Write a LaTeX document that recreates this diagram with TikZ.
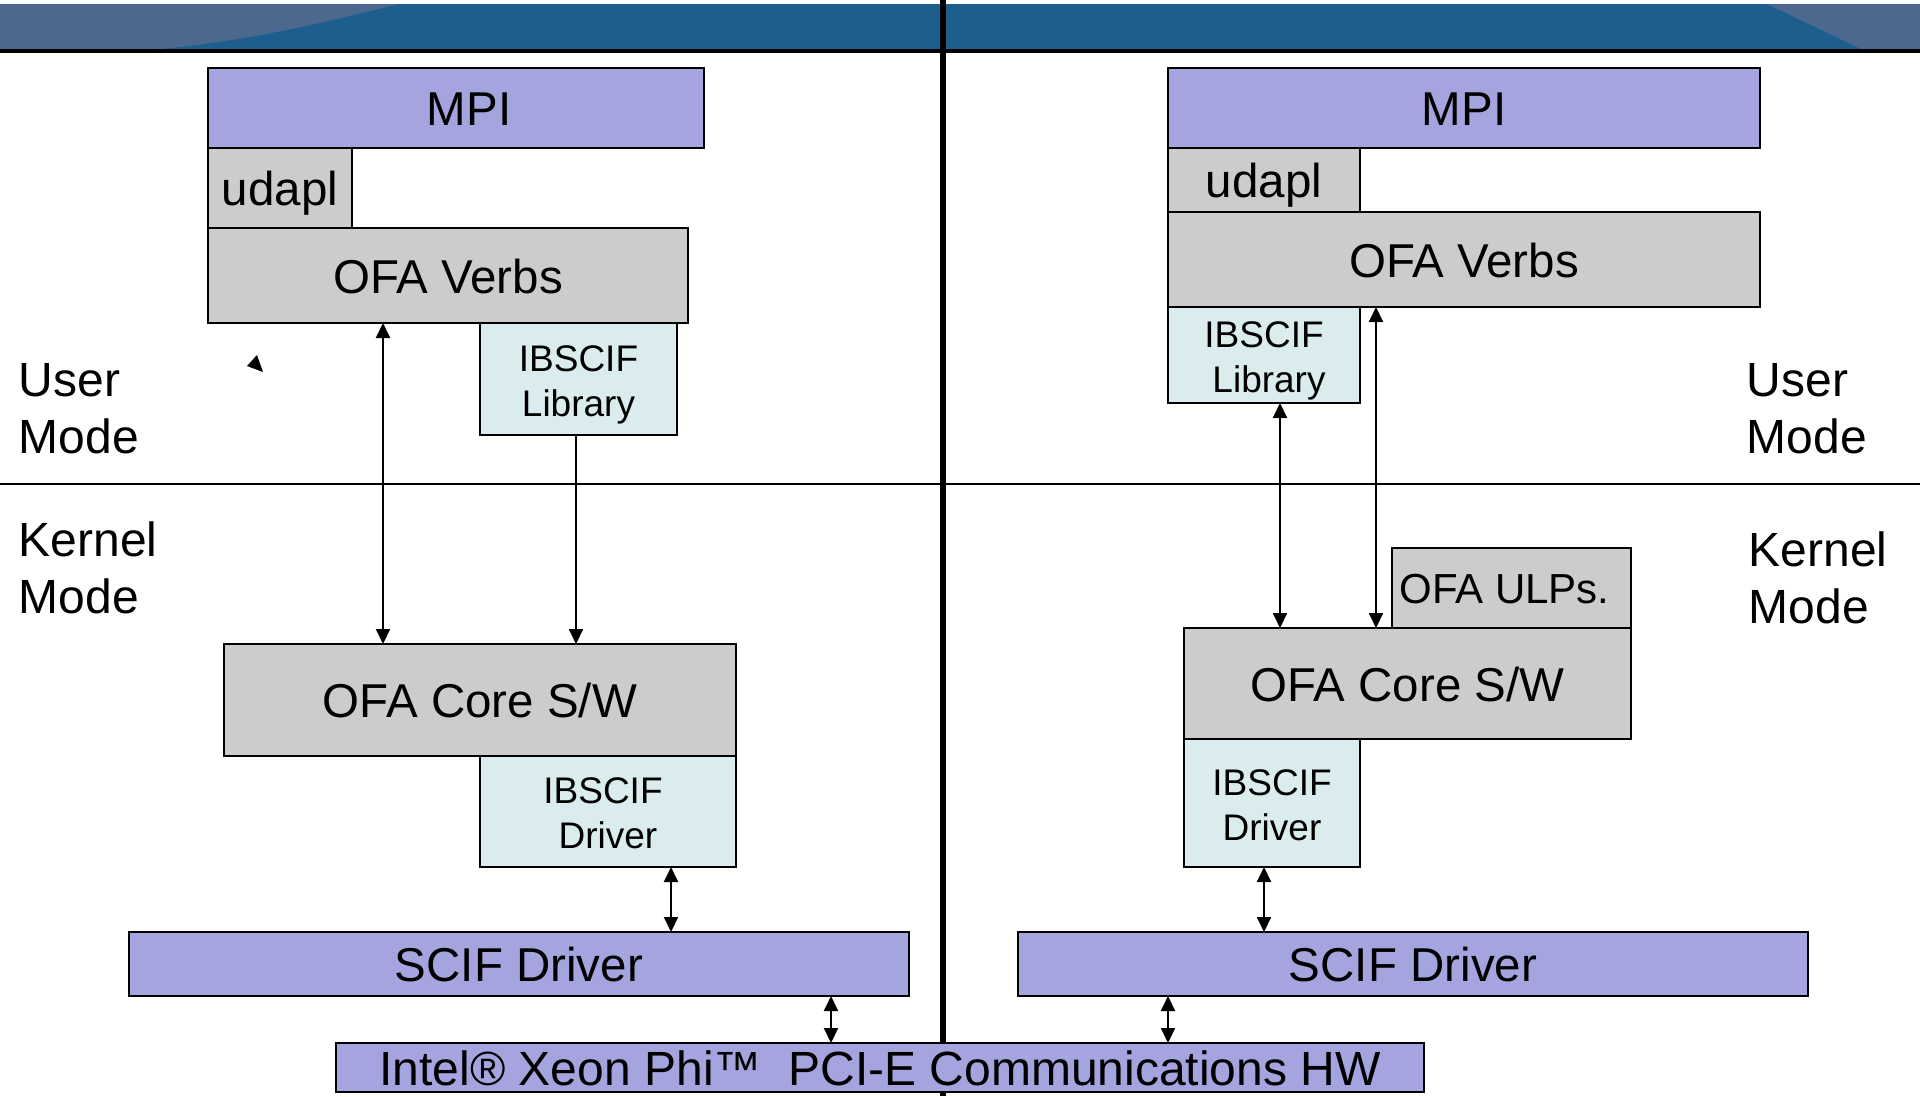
\documentclass[tikz,border=0pt]{standalone}
\usepackage{fontspec}
\setmainfont{Liberation Sans}
\usetikzlibrary{arrows.meta}
\definecolor{purp}{HTML}{A4A4DF}
\definecolor{greyb}{HTML}{CCCCCC}
\definecolor{cyanb}{HTML}{DAECEE}
\definecolor{banner}{HTML}{1C5F8F}
\definecolor{bannerlt}{HTML}{4C688E}
\tikzset{
  box/.style={draw=black, line width=2.5pt, inner sep=0pt, outer sep=0pt, anchor=north west, text=black},
  bigf/.style={font=\fontsize{47.5}{57}\selectfont, text height=35.6pt, text depth=0pt},
  midf/.style={font=\fontsize{37}{45}\selectfont, align=center, text height=74pt, text depth=0pt},
  lbl/.style={font=\fontsize{48}{57}\selectfont, align=left, anchor=west, inner sep=0pt},
  dbl/.style={line width=2pt, {Triangle[width=14pt,length=15pt]}-{Triangle[width=14pt,length=15pt]}},
  sgl/.style={line width=2pt, -{Triangle[width=14pt,length=15pt]}}
}
\begin{document}
\begin{tikzpicture}[x=1pt,y=-1pt]
\useasboundingbox (0,0) rectangle (1920,1096);
\fill[white] (0,0) rectangle (1920,1096);
% banner
\fill[banner] (0,4) rectangle (1920,49);
\fill[bannerlt] (0,4) -- (398,4) .. controls (320,24) and (240,42) .. (159,49) -- (0,49) -- cycle;
\fill[bannerlt] (1767,4) -- (1920,4) -- (1920,49) -- (1861,49) -- cycle;
\draw[line width=4.5pt] (0,51) -- (1920,51);
% mode separator
\draw[line width=2.5pt] (0,484) -- (1920,484);
% divider
\draw[line width=6pt] (943,0) -- (943,1096);

% mode labels
\node[lbl] (userL) at (18.5,409) {User\\Mode};
\node[lbl] (kernL) at (18.5,568) {Kernel\\Mode};
\node[lbl] (userR) at (1746.5,409) {User\\Mode};
\node[lbl] (kernR) at (1748.5,578) {Kernel\\Mode};

% left stack
\node[box, bigf, fill=purp, minimum width=496pt, minimum height=80pt] (mpiL) at (208,68) {\hspace*{26pt}MPI};
\node[box, bigf, fill=greyb, minimum width=144pt, minimum height=80pt] (udaplL) at (208,148) {udapl};
\node[box, bigf, fill=greyb, minimum width=480pt, minimum height=95pt] (verbsL) at (208,228) {OFA Verbs};
\node[box, midf, fill=cyanb, minimum width=197pt, minimum height=112pt] (libL) at (480,323) {IBSCIF\\Library};
\node[box, bigf, fill=greyb, minimum width=512pt, minimum height=112pt] (coreL) at (224,644) {OFA Core S/W};
\node[box, midf, fill=cyanb, minimum width=256pt, minimum height=111pt] (drvL) at (480,756) {\hspace*{-10pt}IBSCIF\\Driver};
\node[box, bigf, fill=purp, minimum width=780pt, minimum height=64pt] (scifL) at (129,932) {SCIF Driver};

% right stack
\node[box, bigf, fill=purp, minimum width=592pt, minimum height=80pt] (mpiR) at (1168,68) {MPI};
\node[box, bigf, fill=greyb, minimum width=192pt, minimum height=64pt] (udaplR) at (1168,148) {udapl};
\node[box, bigf, fill=greyb, minimum width=592pt, minimum height=95pt] (verbsR) at (1168,212) {OFA Verbs};
\node[box, midf, fill=cyanb, minimum width=192pt, minimum height=96pt] (libR) at (1168,307) {IBSCIF\\\hspace*{10pt}Library};
\node[box, font=\fontsize{42}{50}\selectfont, text height=31.5pt, text depth=0pt, fill=greyb, minimum width=239pt, minimum height=80pt] (ulpR) at (1392,548) {\hspace*{-14pt}OFA ULPs.};
\node[box, bigf, fill=greyb, minimum width=447pt, minimum height=111pt] (coreR) at (1184,628) {OFA Core S/W};
\node[box, midf, fill=cyanb, minimum width=176pt, minimum height=128pt] (drvR) at (1184,739) {IBSCIF\\Driver};
\node[box, bigf, fill=purp, minimum width=790pt, minimum height=64pt] (scifR) at (1018,932) {SCIF Driver};

% hardware
\node[box, font=\fontsize{48}{56}\selectfont, text height=36pt, text depth=0pt, fill=purp, minimum width=1088pt, minimum height=49pt] (hw) at (336,1043) {Intel® Xeon Phi™\ \ PCI-E Communications HW};

% arrow x positions
\coordinate (xa1) at (383,0);
\coordinate (xa2) at (576,0);
\coordinate (xa3) at (671,0);
\coordinate (xa4) at (831,0);
\coordinate (xb1) at (1280,0);
\coordinate (xb2) at (1376,0);
\coordinate (xb3) at (1264,0);
\coordinate (xb4) at (1168,0);

\draw[dbl] (xa1 |- verbsL.south) -- (xa1 |- coreL.north);
\draw[sgl] (xa2 |- libL.south) -- (xa2 |- coreL.north);
\draw[dbl] (xa3 |- drvL.south) -- (xa3 |- scifL.north);
\draw[dbl] (xa4 |- scifL.south) -- (xa4 |- hw.north);
\draw[dbl] (xb1 |- libR.south) -- (xb1 |- coreR.north);
\draw[dbl] (xb2 |- verbsR.south) -- (xb2 |- coreR.north);
\draw[dbl] (xb3 |- drvR.south) -- (xb3 |- scifR.north);
\draw[dbl] (xb4 |- scifR.south) -- (xb4 |- hw.north);

% stray arrowhead mark
\fill[black] (257,355) -- (247,366) -- (263,372) -- cycle;
\end{tikzpicture}
\end{document}
